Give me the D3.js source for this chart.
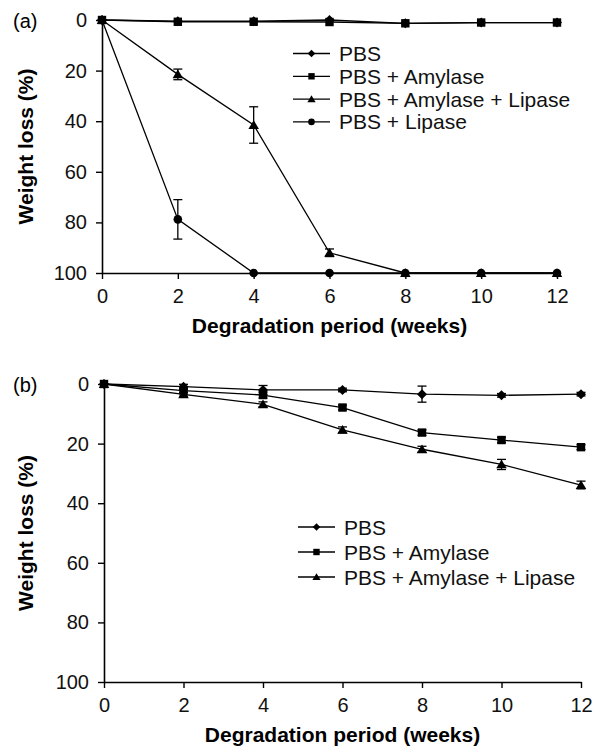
<!DOCTYPE html>
<html>
<head>
<meta charset="utf-8">
<script src="https://cdn.jsdelivr.net/npm/d3@7"></script>
<style>
  body { margin: 0; background: #fff; }
  svg { display: block; font-family: "Liberation Sans", Arial, sans-serif; }
</style>
</head>
<body>
<div id="chart"></div>
<script>
// weeks on the x axis
const weeks = [0, 2, 4, 6, 8, 10, 12];
const xTicks = [0, 2, 4, 6, 8, 10, 12];
const yTicks = [0, 20, 40, 60, 80, 100];

// panel (a)
const aPBS = [0, 0.5, 0.5, 0, 1.3, 1, 1];
const aAmylase = [0, 0.7, 0.7, 0.8, 1.3, 1, 1];
const aAmyLip = [0, 21.5, 41.5, 92, 100, 100, 100];
const aAmyLipErr = [0, 2.1, 7.2, 1.5, 0, 0, 0];
const aLipase = [0, 78.8, 100, 100, 100, 100, 100];
const aLipaseErr = [0, 7.8, 0, 0, 0, 0, 0];

// panel (b)
const bPBS = [0, 0.9, 2.0, 2.0, 3.4, 3.8, 3.4];
const bPBSErr = [0, 0.8, 1.5, 0.6, 2.7, 0.6, 0.6];
const bAmylase = [0, 2.2, 3.7, 7.9, 16.3, 18.8, 21.2];
const bAmylaseErr = [0, 0.6, 1.0, 0.8, 0.9, 0.9, 0.8];
const bAmyLip = [0, 3.5, 6.8, 15.4, 21.9, 27, 33.9];
const bAmyLipErr = [0, 0.6, 0.8, 1.0, 1.0, 1.7, 1.3];

const legendA = ["PBS", "PBS + Amylase", "PBS + Amylase + Lipase", "PBS + Lipase"];
const legendB = ["PBS", "PBS + Amylase", "PBS + Amylase + Lipase"];

const width = 598, height = 747;
const svg = d3.select('#chart').append('svg')
    .attr('width', width)
    .attr('height', height);

// marker shapes drawn as paths around (0,0)
function shapePath(kind, s) {
    if (kind === 'diamond') return `M0,${-s}L${s},0L0,${s}L${-s},0Z`;
    if (kind === 'square') return `M${-s},${-s}H${s}V${s}H${-s}Z`;
    if (kind === 'triangle') return `M0,${-s * 1.05}L${s * 1.15},${s * 0.85}L${-s * 1.15},${s * 0.85}Z`;
    return d3.arc()({innerRadius: 0, outerRadius: s, startAngle: 0, endAngle: 2 * Math.PI});
}
const markerSize = {diamond: 5, square: 4.2, triangle: 4.6, circle: 4.3};
const legendMarkerSize = {diamond: 3.8, square: 3.2, triangle: 3.6, circle: 3.3};

function drawPanel(opts) {
    const x = d3.scaleLinear().domain([0, 12]).range([opts.x0, opts.x1]);
    const y = d3.scaleLinear().domain([0, 100]).range([opts.y0, opts.y1]);
    const g = svg.append('g');

    // y axis
    const yAxis = g.append('g')
        .attr('transform', `translate(${opts.x0},0)`)
        .call(d3.axisLeft(y).tickValues(yTicks).tickSize(6).tickSizeOuter(0).tickPadding(9));
    // x axis
    const xAxis = g.append('g')
        .attr('transform', `translate(0,${opts.y1})`)
        .call(d3.axisBottom(x).tickValues(xTicks).tickSize(6).tickSizeOuter(0).tickPadding(10));
    [yAxis, xAxis].forEach(ax => {
        ax.selectAll('path.domain').attr('stroke', '#000').attr('stroke-width', 1.6);
        ax.selectAll('.tick line').attr('stroke', '#000').attr('stroke-width', 1.4);
        ax.selectAll('.tick text')
            .attr('fill', '#111')
            .style('font-size', '20px')
            .style('font-family', '"Liberation Sans", Arial, sans-serif');
    });

    // axis titles
    g.append('text')
        .attr('transform', `translate(33,${(opts.y0 + opts.y1) / 2}) rotate(-90)`)
        .attr('text-anchor', 'middle')
        .style('font-size', '21px')
        .style('font-weight', 'bold')
        .text('Weight loss (%)');
    g.append('text')
        .attr('x', (opts.x0 + opts.x1) / 2)
        .attr('y', opts.y1 + 60)
        .attr('text-anchor', 'middle')
        .style('font-size', '21px')
        .style('font-weight', 'bold')
        .text('Degradation period (weeks)');
    g.append('text')
        .attr('x', 13)
        .attr('y', opts.y0 + 8)
        .style('font-size', '20px')
        .text(opts.label);

    const line = d3.line().x((d, i) => x(weeks[i])).y(d => y(d));

    opts.series.forEach(s => {
        g.append('path')
            .datum(s.values)
            .attr('fill', 'none')
            .attr('stroke', '#000')
            .attr('stroke-width', 1.3)
            .attr('d', line);
    });

    // error bars
    opts.series.forEach(s => {
        if (!s.err) return;
        const eb = g.append('g').attr('stroke', '#000').attr('stroke-width', 1.3);
        s.values.forEach((v, i) => {
            const e = s.err[i];
            if (!e) return;
            const cx = x(weeks[i]);
            eb.append('line').attr('x1', cx).attr('x2', cx).attr('y1', y(v - e)).attr('y2', y(v + e));
            eb.append('line').attr('x1', cx - 4.5).attr('x2', cx + 4.5).attr('y1', y(v - e)).attr('y2', y(v - e));
            eb.append('line').attr('x1', cx - 4.5).attr('x2', cx + 4.5).attr('y1', y(v + e)).attr('y2', y(v + e));
        });
    });

    // markers
    opts.series.forEach(s => {
        g.append('g').selectAll('path')
            .data(s.values)
            .join('path')
            .attr('transform', (d, i) => `translate(${x(weeks[i])},${y(d)})`)
            .attr('d', shapePath(s.shape, markerSize[s.shape]))
            .attr('fill', '#000');
    });

    // legend
    const leg = g.append('g');
    opts.series.forEach((s, i) => {
        const ly = opts.legY + i * opts.legStep;
        leg.append('line')
            .attr('x1', opts.legX).attr('x2', opts.legX + 37)
            .attr('y1', ly).attr('y2', ly)
            .attr('stroke', '#000').attr('stroke-width', 1.3);
        leg.append('path')
            .attr('transform', `translate(${opts.legX + 18.5},${ly})`)
            .attr('d', shapePath(s.shape, legendMarkerSize[s.shape]))
            .attr('fill', '#000');
        leg.append('text')
            .attr('x', opts.legX + 46)
            .attr('y', ly)
            .attr('dy', '0.36em')
            .style('font-size', '21px')
            .attr('fill', '#111')
            .text(opts.legend[i]);
    });
}

drawPanel({
    label: '(a)', x0: 102, x1: 557, y0: 20, y1: 273,
    legX: 293, legY: 53.5, legStep: 22.8, legend: legendA,
    series: [
        {values: aPBS, shape: 'diamond'},
        {values: aAmylase, shape: 'square'},
        {values: aAmyLip, err: aAmyLipErr, shape: 'triangle'},
        {values: aLipase, err: aLipaseErr, shape: 'circle'}
    ]
});

drawPanel({
    label: '(b)', x0: 104, x1: 581, y0: 384, y1: 682,
    legX: 298, legY: 527, legStep: 25, legend: legendB,
    series: [
        {values: bPBS, err: bPBSErr, shape: 'diamond'},
        {values: bAmylase, err: bAmylaseErr, shape: 'square'},
        {values: bAmyLip, err: bAmyLipErr, shape: 'triangle'}
    ]
});
</script>
</body>
</html>
